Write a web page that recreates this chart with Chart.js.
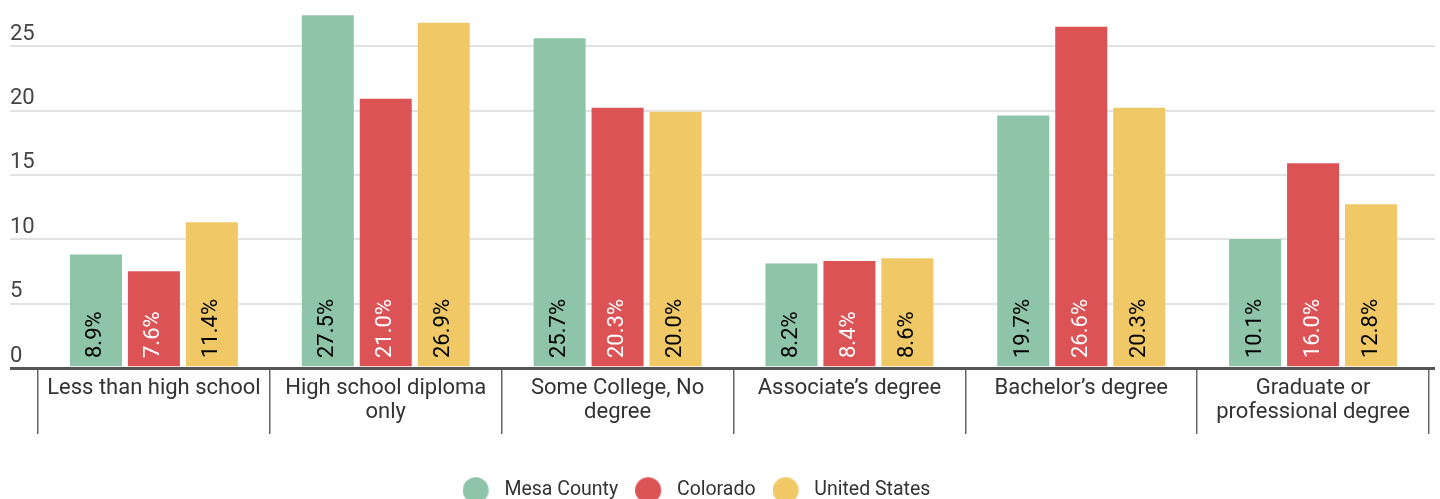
<!DOCTYPE html>
<html>
<head>
<meta charset="utf-8">
<script src="https://cdn.jsdelivr.net/npm/chart.js@4"></script>
<style>
  html, body { margin: 0; padding: 0; overflow: hidden; background: #fff; }
  #wrap { width: 1440px; height: 512px; position: relative; }
</style>
</head>
<body>
<div id="wrap"><canvas id="c" width="1440" height="512"></canvas></div>
<script>
const categories = [
  "Less than high school",
  ["High school diploma", "only"],
  ["Some College, No", "degree"],
  "Associate\u2019s degree",
  "Bachelor\u2019s degree",
  ["Graduate or", "professional degree"]
];
const seriesNames = ["Mesa County", "Colorado", "United States"];
const mesaCounty = [8.9, 27.5, 25.7, 8.2, 19.7, 10.1];
const colorado = [7.6, 21.0, 20.3, 8.4, 26.6, 16.0];
const unitedStates = [11.4, 26.9, 20.0, 8.6, 20.3, 12.8];
const yTicks = [0, 5, 10, 15, 20, 25];

const colors = ["#8ec4a8", "#dc5356", "#f0c966"];
const labelColors = ["#000", "#fff", "#000"];
const FONT = "Roboto, 'Noto Sans', sans-serif";

function legendDot(color) {
  const cv = document.createElement('canvas');
  cv.width = 32; cv.height = 28;
  const g = cv.getContext('2d');
  g.fillStyle = color;
  g.beginPath();
  g.arc(13, 14, 13, 0, Math.PI * 2);
  g.fill();
  return cv;
}
const dots = colors.map(legendDot);

const barLabels = {
  id: 'barLabels',
  afterDatasetsDraw(chart) {
    const ctx = chart.ctx;
    ctx.save();
    ctx.font = "22px " + FONT;
    ctx.textAlign = 'left';
    ctx.textBaseline = 'middle';
    chart.data.datasets.forEach((ds, di) => {
      const meta = chart.getDatasetMeta(di);
      meta.data.forEach((bar, i) => {
        ctx.save();
        ctx.translate(bar.x, bar.base - 8.5);
        ctx.rotate(-Math.PI / 2);
        ctx.fillStyle = labelColors[di];
        ctx.fillText(ds.data[i].toFixed(1) + '%', 0, 0);
        ctx.restore();
      });
    });
    ctx.restore();
  }
};

const legendShift = {
  id: 'legendShift',
  afterLayout(chart) {
    if (chart.legend) {
      chart.legend.left -= 26;
      chart.legend.right -= 26;
    }
  }
};

const gridColor = (c) => (c.tick && c.tick.value === 0) ? '#555' : '#e2e2e2';
const gridWidth = (c) => (c.tick && c.tick.value === 0) ? 3 : 2;

new Chart(document.getElementById('c'), {
  type: 'bar',
  data: {
    labels: categories,
    datasets: [
      { label: seriesNames[0], data: mesaCounty, backgroundColor: colors[0] },
      { label: seriesNames[1], data: colorado, backgroundColor: colors[1] },
      { label: seriesNames[2], data: unitedStates, backgroundColor: colors[2] }
    ]
  },
  options: {
    responsive: false,
    animation: false,
    devicePixelRatio: 1,
    layout: { padding: { left: 10, right: 5, top: 0, bottom: 2 } },
    datasets: {
      bar: {
        categoryPercentage: 0.75,
        barPercentage: 0.932,
        borderWidth: 1,
        borderColor: 'rgba(255,255,255,0.3)'
      }
    },
    scales: {
      x: {
        z: 1,
        grid: {
          offset: true,
          drawOnChartArea: false,
          color: '#666',
          lineWidth: 1.5,
          tickLength: 66
        },
        border: { display: true, color: '#555', width: 3 },
        ticks: {
          autoSkip: false,
          maxRotation: 0,
          minRotation: 0,
          padding: -57.5,
          color: '#333',
          font: { family: FONT, size: 22, lineHeight: 1.1 }
        },
        afterFit(s) { s.height = 95.5; }
      },
      y: {
        min: 0,
        max: 28.6,
        afterBuildTicks(s) { s.ticks = yTicks.map(v => ({ value: v })); },
        afterFit(s) { s.width = 28; s.paddingTop = 0; s.paddingBottom = 0; },
        grid: { color: gridColor, tickColor: gridColor, lineWidth: gridWidth, tickLength: 28 },
        border: { display: false },
        ticks: {
          crossAlign: 'far',
          padding: 0,
          labelOffset: -12,
          color: '#444',
          font: { family: FONT, size: 22 }
        }
      },
      y2: {
        position: 'right',
        min: 0,
        max: 28.6,
        afterBuildTicks(s) { s.ticks = yTicks.map(v => ({ value: v })); },
        afterFit(s) { s.width = 6; s.paddingTop = 0; s.paddingBottom = 0; },
        grid: { drawOnChartArea: false, color: gridColor, tickColor: gridColor, lineWidth: gridWidth, tickLength: 6 },
        border: { display: false },
        ticks: { display: false }
      }
    },
    plugins: {
      tooltip: { enabled: false },
      legend: {
        position: 'bottom',
        labels: {
          usePointStyle: true,
          pointStyleWidth: 32,
          padding: 17,
          color: '#333',
          font: { family: FONT, size: 19.5 },
          generateLabels(chart) {
            const items = Chart.defaults.plugins.legend.labels.generateLabels(chart);
            items.forEach((it, i) => { it.pointStyle = dots[i]; it.fontColor = '#333'; });
            return items;
          }
        }
      }
    }
  },
  plugins: [barLabels, legendShift]
});
</script>
</body>
</html>
